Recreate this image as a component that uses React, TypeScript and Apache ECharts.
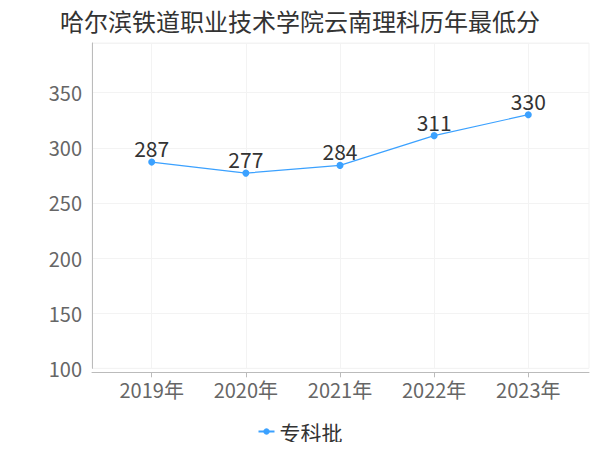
import React, { useEffect, useRef } from "react";
import * as echarts from "echarts";

const title = "哈尔滨铁道职业技术学院云南理科历年最低分";
const categories = ["2019年", "2020年", "2021年", "2022年", "2023年"];
const seriesName = "专科批";
const values = [287, 277, 284, 311, 330];
const yMin = 100;
const yMax = 395;
const yInterval = 50;

const FONT = "Noto Sans CJK SC, Noto Sans, sans-serif";

export default function App() {
  const ref = useRef<HTMLDivElement>(null);
  useEffect(() => {
    if (!ref.current) return;
    const chart = echarts.init(ref.current, undefined, { renderer: "svg" });
    const gridTop = 43;
    const gridBottom = 450 - 368.3;
    chart.setOption({
      animation: false,
      backgroundColor: "#ffffff",
      title: {
        text: title,
        left: "center",
        top: 3,
        textStyle: { fontFamily: FONT, fontSize: 24, fontWeight: "normal", color: "#333333" },
      },
      legend: {
        bottom: 3,
        left: "center",
        data: [seriesName],
        itemWidth: 16,
        itemHeight: 8,
        itemGap: 4,
        textStyle: { fontFamily: FONT, fontSize: 21, color: "#333333" },
      },
      grid: [
        {
          left: 92,
          right: 11,
          top: gridTop,
          bottom: gridBottom,
          show: true,
          borderColor: "#f3f3f3",
          borderWidth: 1,
          containLabel: false,
        },
        {
          left: 151.7,
          right: 600 - 528.3,
          top: gridTop,
          bottom: gridBottom,
          containLabel: false,
        },
      ],
      xAxis: [
        {
          type: "value",
          gridIndex: 0,
          min: 0,
          max: 1,
          offset: 4,
          axisLine: { show: true, lineStyle: { color: "#bbbbbb" } },
          axisTick: { show: false },
          axisLabel: { show: false },
          splitLine: { show: false },
        },
        {
          type: "category",
          gridIndex: 1,
          data: categories,
          boundaryGap: false,
          offset: 4,
          axisLine: { show: false },
          axisTick: { show: true, length: 5, lineStyle: { color: "#bbbbbb" } },
          axisLabel: { fontFamily: FONT, fontSize: 20, color: "#666666", margin: 7 },
          splitLine: { show: true, lineStyle: { color: "#f3f3f3" } },
        },
      ],
      yAxis: [
        {
          type: "value",
          gridIndex: 0,
          min: yMin,
          max: yMax,
          interval: yInterval,
          offset: 3,
          axisLine: { show: true, lineStyle: { color: "#bbbbbb" } },
          axisTick: { show: false },
          axisLabel: {
            fontFamily: FONT,
            fontSize: 20,
            color: "#666666",
            margin: 7,
            showMaxLabel: false,
          },
          splitLine: { show: true, lineStyle: { color: "#f3f3f3" } },
        },
        {
          type: "value",
          gridIndex: 1,
          min: yMin,
          max: yMax,
          interval: yInterval,
          show: false,
          splitLine: { show: false },
        },
      ],
      series: [
        {
          name: seriesName,
          type: "line",
          xAxisIndex: 1,
          yAxisIndex: 1,
          data: values,
          symbol: "circle",
          symbolSize: 7,
          itemStyle: { color: "#3ba1ff" },
          lineStyle: { color: "#3ba1ff", width: 1.2 },
          label: {
            show: true,
            position: "top",
            distance: 0,
            fontFamily: FONT,
            fontSize: 21,
            color: "#333333",
          },
        },
      ],
    });
    return () => chart.dispose();
  }, []);
  return <div ref={ref} style={{ width: 600, height: 450, margin: -8 }} />;
}
